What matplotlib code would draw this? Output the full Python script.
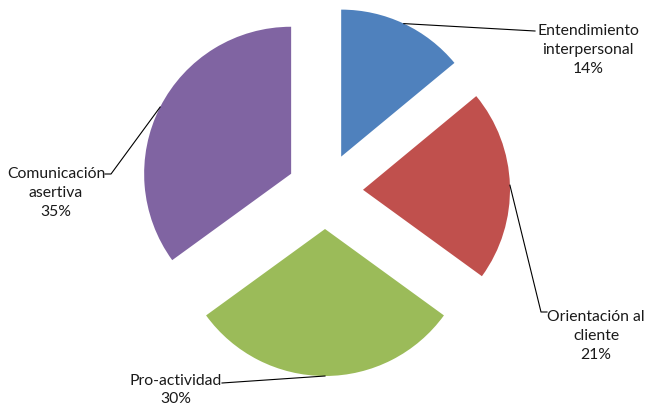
import numpy as np
import matplotlib.pyplot as plt

# datos del gráfico
categorias = ['Entendimiento\ninterpersonal', 'Orientación al\ncliente',
              'Pro-actividad', 'Comunicación\nasertiva']
valores = [14, 21, 30, 35]
colores = ['#4F81BD', '#C0504D', '#9BBB59', '#8064A2']

# layout en pixeles (y hacia arriba)
W, H = 645, 414
centro = (325, 222)
radio = 147
sep = 38  # desplazamiento de cada porción, en px
pos_texto = [(588, 364), (596, 78), (176, 24), (56, 221)]
codo = [[(535, 382)], [(541, 101), (547, 101)], [(222, 30)], [(111, 239), (105, 239)]]

plt.rcParams['font.family'] = ['Lato', 'DejaVu Sans']

fig = plt.figure(figsize=(W / 100, H / 100), dpi=100)
ax = fig.add_axes([0, 0, 1, 1])

wedges, _ = ax.pie(valores, colors=colores, startangle=90, counterclock=False,
                   explode=[sep] * len(valores), radius=radio, center=centro,
                   wedgeprops=dict(linewidth=0))

total = sum(valores)
for i, w in enumerate(wedges):
    ang = np.deg2rad((w.theta1 + w.theta2) / 2)
    cx, cy = w.center
    x0 = cx + w.r * np.cos(ang)
    y0 = cy + w.r * np.sin(ang)
    xs = [x0] + [p[0] for p in codo[i]]
    ys = [y0] + [p[1] for p in codo[i]]
    ax.plot(xs, ys, color='black', linewidth=0.8)
    pct = round(100 * valores[i] / total)
    ax.text(pos_texto[i][0], pos_texto[i][1], f'{categorias[i]}\n{pct}%',
            ha='center', va='center', fontsize=11.3, color='#1a1a1a',
            linespacing=1.42)

ax.set_xlim(0, W)
ax.set_ylim(0, H)
ax.set_aspect('equal')
ax.axis('off')

fig.savefig('out.png', dpi=100)
